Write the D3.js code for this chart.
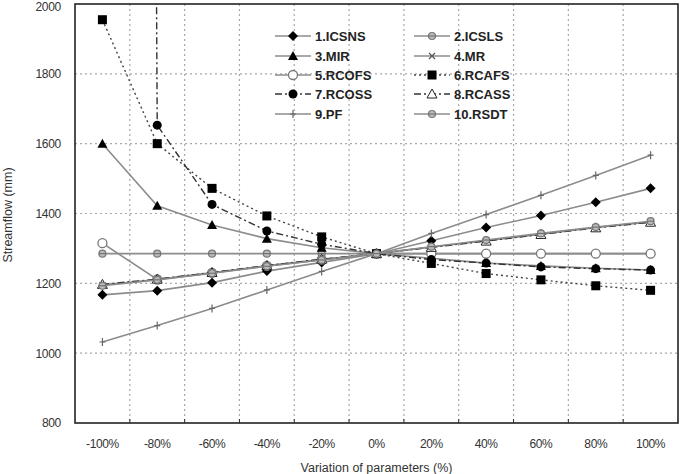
<!DOCTYPE html>
<html>
<head>
<meta charset="utf-8">
<script src="https://cdn.jsdelivr.net/npm/d3@7"></script>
<style>
  html, body { margin: 0; padding: 0; background: #fff; }
  svg { display: block; font-family: "Liberation Sans", Arial, sans-serif; }
</style>
</head>
<body>
<div id="chart"></div>
<script>
// ── Data ────────────────────────────────────────────────────────────────────
var categories = ["-100%", "-80%", "-60%", "-40%", "-20%", "0%", "20%", "40%", "60%", "80%", "100%"];
var yTicks = [800, 1000, 1200, 1400, 1600, 1800, 2000];

var icsns = [1167, 1179, 1202, 1235, 1260, 1285, 1322, 1360, 1394, 1432, 1472];
var icsls = [1285, 1285, 1285, 1285, 1285, 1285, 1285, 1285, 1285, 1285, 1285];
var mir   = [1600, 1422, 1367, 1328, 1302, 1285, 1272, 1258, 1250, 1243, 1238];
var mr    = [1195, 1211, 1230, 1250, 1268, 1285, 1304, 1322, 1341, 1360, 1376];
var rcofs = [1315, 1211, 1230, 1250, 1268, 1285, 1285, 1285, 1285, 1285, 1285];
var rcafs = [1955, 1600, 1472, 1393, 1333, 1285, 1257, 1228, 1210, 1193, 1180];
// first RCOSS value lies far above the axis maximum (line leaves the plot vertically)
var rcoss = [30000, 1653, 1426, 1350, 1312, 1285, 1268, 1258, 1247, 1242, 1238];
var rcass = [1197, 1212, 1231, 1251, 1269, 1285, 1303, 1321, 1340, 1359, 1375];
var pf    = [1032, 1079, 1128, 1181, 1234, 1285, 1343, 1397, 1452, 1509, 1567];
var rsdt  = [1193, 1210, 1229, 1249, 1267, 1285, 1305, 1324, 1343, 1361, 1378];

var series = [
  { name: "1.ICSNS",  values: icsns, marker: "diamond",   line: "solid"   },
  { name: "2.ICSLS",  values: icsls, marker: "smallcirc", line: "solid"   },
  { name: "3.MIR",    values: mir,   marker: "triangle",  line: "solid"   },
  { name: "4.MR",     values: mr,    marker: "cross",     line: "solid"   },
  { name: "5.RCOFS",  values: rcofs, marker: "opencirc",  line: "solid"   },
  { name: "6.RCAFS",  values: rcafs, marker: "square",    line: "dot"     },
  { name: "7.RCOSS",  values: rcoss, marker: "circle",    line: "dashdot" },
  { name: "8.RCASS",  values: rcass, marker: "opentri",   line: "dashdot" },
  { name: "9.PF",     values: pf,    marker: "plus",      line: "solid"   },
  { name: "10.RSDT",  values: rsdt,  marker: "smallcirc", line: "solid"   }
];

// ── Layout ──────────────────────────────────────────────────────────────────
var W = 682, H = 474;
var margin = { top: 4, right: 4, bottom: 51, left: 75 };
var iW = W - margin.left - margin.right;
var iH = H - margin.top - margin.bottom;

var svg = d3.select("#chart").append("svg").attr("width", W).attr("height", H);
svg.append("rect").attr("width", W).attr("height", H).attr("fill", "#fff");

svg.append("defs").append("clipPath").attr("id", "plotclip")
  .append("rect").attr("width", iW).attr("height", iH);

var g = svg.append("g").attr("transform", "translate(" + margin.left + "," + margin.top + ")");

var x = d3.scaleBand().domain(categories).range([0, iW]);
var y = d3.scaleLinear().domain([800, 2000]).range([iH, 0]);
function cx(i) { return x(categories[i]) + x.bandwidth() / 2; }

var GRAY = "#8c8c8c";

// ── Grid ────────────────────────────────────────────────────────────────────
g.append("g").selectAll("line").data(yTicks.slice(1, -1)).join("line")
  .attr("x1", 0).attr("x2", iW)
  .attr("y1", function (d) { return y(d); }).attr("y2", function (d) { return y(d); })
  .attr("stroke", "#a8a8a8").attr("stroke-width", 1.2).attr("stroke-dasharray", "2,3");

g.append("g").selectAll("line").data(categories.slice(1)).join("line")
  .attr("x1", function (d) { return x(d); }).attr("x2", function (d) { return x(d); })
  .attr("y1", 0).attr("y2", iH)
  .attr("stroke", "#a8a8a8").attr("stroke-width", 1.2).attr("stroke-dasharray", "2,3");

// ── Axes ────────────────────────────────────────────────────────────────────
var gY = g.append("g").call(d3.axisLeft(y).tickValues(yTicks).tickFormat(d3.format("d"))
  .tickSize(0).tickPadding(14));
gY.select(".domain").remove();
gY.selectAll("text").attr("fill", "#333").style("font-size", "12px")
  .style("font-family", "'Liberation Sans', Arial, sans-serif").style("letter-spacing", "-0.3px");
// top label would be clipped by the page edge – nudge it down a little
gY.selectAll(".tick").filter(function (d) { return d === 2000; }).select("text").attr("y", 3);

var gX = g.append("g").attr("transform", "translate(0," + iH + ")")
  .call(d3.axisBottom(x).tickSize(0).tickPadding(16));
gX.select(".domain").remove();
gX.selectAll("text").attr("fill", "#333").style("font-size", "12px")
  .style("font-family", "'Liberation Sans', Arial, sans-serif").style("letter-spacing", "-0.4px");

// tick marks between categories
g.append("g").selectAll("line").data(categories.slice(1)).join("line")
  .attr("x1", function (d) { return x(d); }).attr("x2", function (d) { return x(d); })
  .attr("y1", iH).attr("y2", iH - 4).attr("stroke", "#333");

svg.append("text").attr("x", margin.left + iW / 2).attr("y", 472)
  .attr("text-anchor", "middle").attr("fill", "#333").style("font-size", "12.5px")
  .text("Variation of parameters (%)");
svg.append("text").attr("transform", "translate(12," + (margin.top + 211) + ") rotate(-90)")
  .attr("text-anchor", "middle").attr("fill", "#333").style("font-size", "12.5px")
  .text("Streamflow (mm)");

// ── Marker drawing ──────────────────────────────────────────────────────────
function drawMarker(sel, type) {
  if (type === "diamond") {
    sel.append("path").attr("d", "M0,-5L5,0L0,5L-5,0Z").attr("fill", "#000");
  } else if (type === "triangle") {
    sel.append("path").attr("d", "M0,-5L5,4L-5,4Z").attr("fill", "#000");
  } else if (type === "opentri") {
    sel.append("path").attr("d", "M0,-5L5,4L-5,4Z").attr("fill", "#fff").attr("stroke", "#222").attr("stroke-width", 1);
  } else if (type === "square") {
    sel.append("rect").attr("x", -4.5).attr("y", -4.5).attr("width", 9).attr("height", 9).attr("fill", "#000");
  } else if (type === "circle") {
    sel.append("circle").attr("r", 4.5).attr("fill", "#000");
  } else if (type === "opencirc") {
    sel.append("circle").attr("r", 4.5).attr("fill", "#fff").attr("stroke", "#777").attr("stroke-width", 1.3);
  } else if (type === "smallcirc") {
    sel.append("circle").attr("r", 3.5).attr("fill", "#bbb").attr("stroke", "#777").attr("stroke-width", 1.2);
    sel.append("line").attr("x1", -3.5).attr("x2", 3.5).attr("stroke", "#666").attr("stroke-width", 1);
  } else if (type === "cross") {
    sel.append("path").attr("d", "M-3,-3L3,3M-3,3L3,-3").attr("stroke", "#555").attr("stroke-width", 1.2);
  } else if (type === "plus") {
    sel.append("path").attr("d", "M0,-4L0,4M-3,0L3,0").attr("stroke", "#666").attr("stroke-width", 1.2);
  }
}

function lineStyle(sel, s) {
  if (s.line === "solid") {
    sel.attr("stroke", GRAY).attr("stroke-width", 1.6);
  } else if (s.line === "dot") {
    sel.attr("stroke", "#444").attr("stroke-width", 1.4).attr("stroke-dasharray", "2,3");
  } else {
    sel.attr("stroke", "#333").attr("stroke-width", 1.4).attr("stroke-dasharray", "7,3,2,3");
  }
}

// ── Series ──────────────────────────────────────────────────────────────────
var plot = g.append("g").attr("clip-path", "url(#plotclip)");
var line = d3.line().x(function (d, i) { return cx(i); }).y(function (d) { return y(d); });

series.forEach(function (s) {
  var gs = plot.append("g");
  gs.append("path").datum(s.values).attr("fill", "none").attr("d", line).call(lineStyle, s);
  s.values.forEach(function (v, i) {
    var m = gs.append("g").attr("transform", "translate(" + cx(i) + "," + y(v) + ")");
    drawMarker(m, s.marker);
  });
});

// ── Frame ───────────────────────────────────────────────────────────────────
g.append("rect").attr("width", iW).attr("height", iH)
  .attr("fill", "none").attr("stroke", "#222").attr("stroke-width", 1.6);

// ── Legend ──────────────────────────────────────────────────────────────────
var legend = svg.append("g");
var colX = [275, 414], rowY = [36, 56, 75, 94, 114];
series.forEach(function (s, i) {
  var col = i % 2, row = Math.floor(i / 2);
  var lg = legend.append("g").attr("transform", "translate(" + colX[col] + "," + rowY[row] + ")");
  lg.append("line").attr("x1", 0).attr("x2", 36).call(lineStyle, s);
  drawMarker(lg.append("g").attr("transform", "translate(18,0)"), s.marker);
  lg.append("text").attr("x", 40).attr("y", 0).attr("dy", "0.36em")
    .attr("fill", "#222").style("font-size", "13px").style("font-weight", "bold")
    .text(s.name);
});
</script>
</body>
</html>
